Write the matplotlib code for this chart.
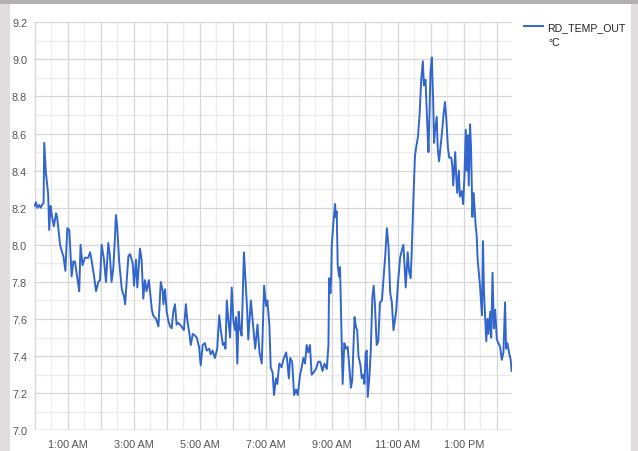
import matplotlib
matplotlib.use("Agg")
import matplotlib.pyplot as plt
from matplotlib.patches import Rectangle
from matplotlib.ticker import MultipleLocator

# ---- data (hours since midnight, temperature in °C) ----
hours = [0.00, 0.04, 0.08, 0.14, 0.18, 0.24, 0.27, 0.29, 0.34, 0.41, 0.44, 0.48, 0.52, 0.58, 0.65, 0.68,
         0.77, 0.83, 0.87, 0.93, 0.99, 1.05, 1.12, 1.17, 1.22, 1.27, 1.35, 1.39, 1.45, 1.52, 1.62, 1.68,
         1.73, 1.80, 1.86, 1.93, 1.98, 2.03, 2.10, 2.16, 2.23, 2.28, 2.33, 2.38, 2.43, 2.46, 2.50, 2.56,
         2.64, 2.71, 2.74, 2.84, 2.89, 2.97, 3.01, 3.07, 3.11, 3.19, 3.24, 3.29, 3.34, 3.39, 3.46, 3.52,
         3.55, 3.59, 3.68, 3.75, 3.82, 3.88, 3.90, 3.95, 4.00, 4.05, 4.10, 4.15, 4.20, 4.25, 4.30, 4.35,
         4.45, 4.52, 4.58, 4.62, 4.68, 4.73, 4.79, 4.86, 4.91, 4.98, 5.03, 5.09, 5.16, 5.21, 5.29, 5.33,
         5.39, 5.46, 5.53, 5.59, 5.64, 5.70, 5.74, 5.78, 5.82, 5.87, 5.92, 5.97, 6.02, 6.07, 6.10, 6.14,
         6.18, 6.22, 6.27, 6.34, 6.40, 6.44, 6.47, 6.55, 6.61, 6.68, 6.75, 6.81, 6.88, 6.95, 7.01, 7.05,
         7.11, 7.15, 7.21, 7.25, 7.31, 7.35, 7.41, 7.48, 7.53, 7.62, 7.66, 7.70, 7.74, 7.80, 7.86, 7.92,
         7.97, 8.04, 8.09, 8.14, 8.19, 8.24, 8.29, 8.34, 8.39, 8.44, 8.52, 8.59, 8.65, 8.72, 8.78, 8.85,
         8.90, 8.92, 8.96, 8.98, 9.00, 9.05, 9.10, 9.12, 9.15, 9.18, 9.22, 9.25, 9.30, 9.33, 9.38, 9.43,
         9.48, 9.52, 9.58, 9.62, 9.69, 9.73, 9.77, 9.81, 9.87, 9.91, 9.96, 9.99, 10.03, 10.06, 10.09, 10.14,
         10.18, 10.23, 10.27, 10.31, 10.36, 10.41, 10.46, 10.52, 10.56, 10.62, 10.67, 10.72, 10.77, 10.82,
         10.87, 10.92, 10.95, 11.00, 11.07, 11.12, 11.17, 11.24, 11.30, 11.34, 11.39, 11.42, 11.47, 11.52,
         11.56, 11.61, 11.66, 11.71, 11.76, 11.79, 11.84, 11.87, 11.90, 11.93, 11.96, 11.99, 12.03, 12.07,
         12.10, 12.13, 12.18, 12.21, 12.25, 12.29, 12.33, 12.39, 12.43, 12.47, 12.52, 12.56, 12.62, 12.65,
         12.68, 12.74, 12.77, 12.80, 12.85, 12.88, 12.94, 12.98, 13.02, 13.06, 13.09, 13.12, 13.15, 13.19,
         13.22, 13.26, 13.29, 13.32, 13.36, 13.39, 13.42, 13.49, 13.55, 13.58, 13.61, 13.65, 13.68, 13.72,
         13.75, 13.80, 13.83, 13.87, 13.91, 13.95, 14.00, 14.05, 14.10, 14.15, 14.20, 14.25, 14.28, 14.32,
         14.37, 14.42, 14.45]

temps = [8.21, 8.23, 8.20, 8.215, 8.20, 8.22, 8.225, 8.55, 8.39, 8.27, 8.08, 8.21, 8.16, 8.10, 8.17, 8.15,
         8.00, 7.96, 7.94, 7.86, 8.09, 8.08, 7.83, 7.91, 7.91, 7.85, 7.75, 8.00, 7.89, 7.93, 7.93, 7.96,
         7.91, 7.83, 7.75, 7.80, 7.81, 8.00, 7.92, 7.80, 8.01, 7.94, 7.80, 7.87, 8.03, 8.16, 8.10, 7.91,
         7.76, 7.72, 7.68, 7.94, 7.95, 7.90, 7.78, 7.92, 7.77, 7.98, 7.92, 7.71, 7.81, 7.75, 7.81, 7.70,
         7.65, 7.62, 7.60, 7.56, 7.80, 7.75, 7.68, 7.76, 7.64, 7.59, 7.56, 7.55, 7.64, 7.68, 7.57, 7.58,
         7.56, 7.54, 7.68, 7.60, 7.53, 7.46, 7.52, 7.51, 7.50, 7.45, 7.35, 7.46, 7.47, 7.43, 7.44, 7.41,
         7.43, 7.39, 7.44, 7.62, 7.54, 7.46, 7.47, 7.44, 7.70, 7.59, 7.50, 7.77, 7.59, 7.54, 7.61, 7.36,
         7.64, 7.55, 7.51, 7.96, 7.77, 7.64, 7.49, 7.70, 7.58, 7.44, 7.57, 7.42, 7.36, 7.78, 7.67, 7.70,
         7.57, 7.34, 7.31, 7.19, 7.28, 7.25, 7.36, 7.34, 7.38, 7.42, 7.36, 7.28, 7.39, 7.37, 7.19, 7.22,
         7.19, 7.30, 7.34, 7.39, 7.36, 7.46, 7.42, 7.46, 7.30, 7.31, 7.33, 7.37, 7.37, 7.32, 7.36, 7.33,
         7.46, 7.82, 7.74, 7.81, 8.00, 8.12, 8.22, 8.15, 8.18, 7.89, 7.83, 7.88, 7.49, 7.25, 7.47, 7.44,
         7.45, 7.37, 7.23, 7.27, 7.61, 7.56, 7.54, 7.40, 7.35, 7.28, 7.30, 7.25, 7.42, 7.43, 7.18, 7.29,
         7.42, 7.72, 7.78, 7.67, 7.46, 7.48, 7.69, 7.70, 7.80, 7.94, 8.09, 7.99, 7.74, 7.69,
         7.54, 7.60, 7.64, 7.78, 7.93, 7.97, 8.00, 7.77, 7.96, 7.86, 7.82, 7.95, 8.23, 8.48,
         8.53, 8.58, 8.70, 8.89, 8.99, 8.86, 8.89, 8.75, 8.62, 8.50, 8.70, 8.93, 9.01, 8.79,
         8.55, 8.62, 8.69, 8.52, 8.45, 8.52, 8.59, 8.71, 8.77, 8.68, 8.52, 8.47, 8.47, 8.43,
         8.32, 8.50, 8.37, 8.28, 8.40, 8.26, 8.29, 8.22, 8.37, 8.62, 8.40, 8.59, 8.32, 8.65,
         8.52, 8.15, 8.28, 8.22, 8.10, 8.05, 7.92, 7.78, 7.62, 8.02, 7.75, 7.60, 7.48, 7.60,
         7.52, 7.64, 7.50, 7.85, 7.55, 7.65, 7.49, 7.47, 7.45, 7.38, 7.42, 7.69, 7.44, 7.47,
         7.42, 7.38, 7.32]

tick_hours = [1, 3, 5, 7, 9, 11, 13]
tick_labels = ["1:00 AM", "3:00 AM", "5:00 AM", "7:00 AM", "9:00 AM", "11:00 AM", "1:00 PM"]
y_ticks = [7.0, 7.2, 7.4, 7.6, 7.8, 8.0, 8.2, 8.4, 8.6, 8.8, 9.0, 9.2]
series_name = "RD_TEMP_OUT"
series_unit = "°C"

plt.rcParams['font.family'] = ['Liberation Sans', 'DejaVu Sans']

W, H = 638, 452
fig = plt.figure(figsize=(W / 100, H / 100), dpi=100)
fig.patch.set_facecolor('#e3dcdd')
# white card of the screenshot
fig.patches.append(Rectangle((10 / W, 0), (631 - 10) / W, (H - 5) / H, transform=fig.transFigure,
                             facecolor='white', edgecolor='none', zorder=-10))
fig.patches.append(Rectangle((0, (H - 5) / H), 1, 5 / H, transform=fig.transFigure,
                             facecolor='#b4b0b0', edgecolor='none', zorder=-10))

left, right, top, bottom = 34, 512, 23.3, 431.3
ax = fig.add_axes([left / W, 1 - bottom / H, (right - left) / W, (bottom - top) / H])
ax.set_facecolor('white')
ax.set_zorder(5)

ax.plot(hours, temps, color='#3366cc', linewidth=1.4, solid_joinstyle='round', zorder=3,
        label=series_name)

ax.set_xlim(-0.02, 14.46)
ax.set_ylim(7.0, 9.2)

ax.set_xticks(tick_hours)
ax.set_xticklabels(tick_labels)
ax.set_yticks(y_ticks)
ax.set_yticklabels([f"{v:.1f}" for v in y_ticks])
ax.xaxis.set_minor_locator(MultipleLocator(0.5))
ax.yaxis.set_minor_locator(MultipleLocator(0.1))

# gridlines: hourly major verticals, half-hour minor; 0.2 major horizontals, 0.1 minor
for hr in range(0, 15):
    ax.axvline(hr, color='#d6d6d6', linewidth=0.9, zorder=1)
for hr in range(0, 15):
    ax.axvline(hr + 0.5, color='#ececec', linewidth=0.9, zorder=0.5)
for v in y_ticks:
    ax.axhline(v, color='#d6d6d6', linewidth=0.9, zorder=1)
for v in y_ticks[:-1]:
    ax.axhline(v + 0.1, color='#ececec', linewidth=0.9, zorder=0.5)
ax.axhline(7.0, color='#c8c8c8', linewidth=1.0, zorder=1)

for s in ax.spines.values():
    s.set_visible(False)
ax.tick_params(which='both', length=0)
ax.tick_params(axis='y', pad=5, labelsize=7.8, labelcolor='#555555')
ax.tick_params(axis='x', pad=6, labelsize=7.8, labelcolor='#555555')

# legend (line sample + name), unit on the next line
leg = ax.legend(loc='upper left', bbox_to_anchor=(523.5 / W, 1 - 23 / H),
                bbox_transform=fig.transFigure,
                frameon=False, fontsize=7.6, handlelength=1.85, handletextpad=0.35,
                borderaxespad=0, borderpad=0)
for t in leg.get_texts():
    t.set_color('#222222')
fig.text(548 / W, 1 - 43 / H, series_unit, fontsize=7.6, color='#222222',
         ha='left', va='center')

fig.savefig("out.png", dpi=100, facecolor=fig.get_facecolor())
